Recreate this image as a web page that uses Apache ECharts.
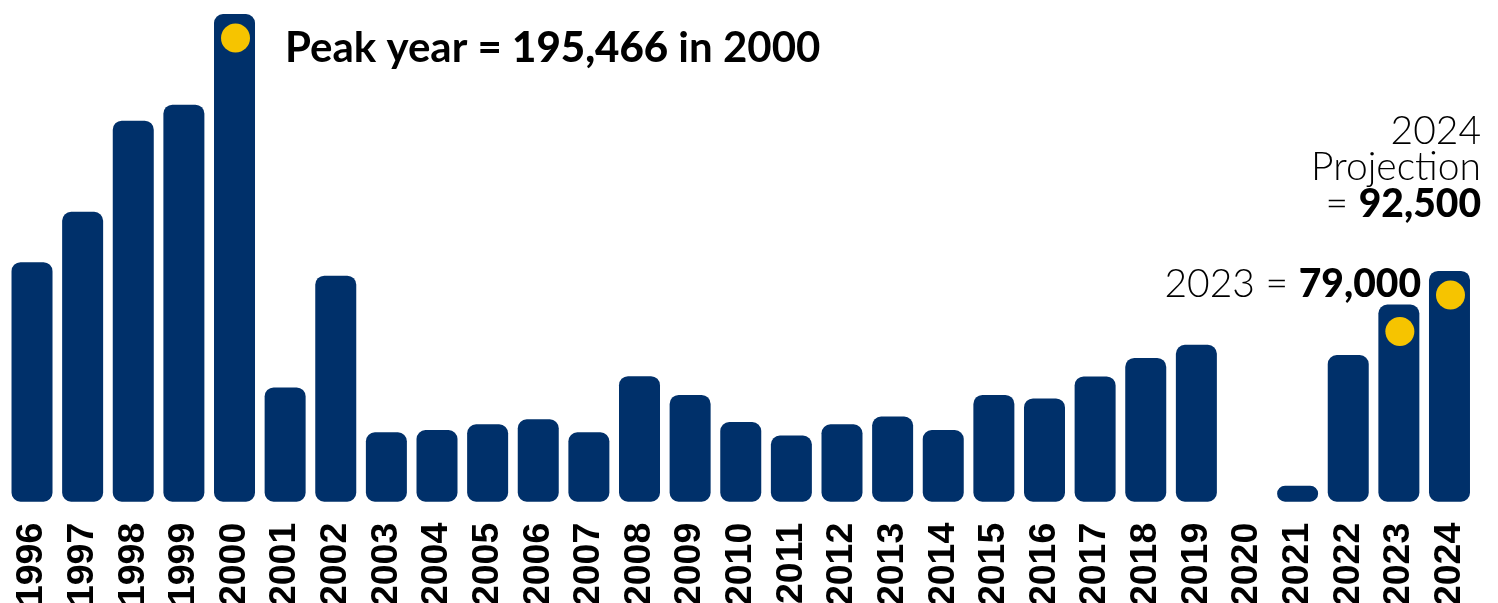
<!DOCTYPE html>
<html>
<head>
<meta charset="utf-8">
<style>
html,body{margin:0;padding:0;background:#fff;}
#chart{width:1498px;height:603px;}
</style>
<script src="https://cdn.jsdelivr.net/npm/echarts@6/dist/echarts.min.js"></script>
</head>
<body>
<div id="chart"></div>
<script>
const years = ['1996','1997','1998','1999','2000','2001','2002','2003','2004','2005','2006','2007','2008','2009','2010','2011','2012','2013','2014','2015','2016','2017','2018','2019','2020','2021','2022','2023','2024'];
const values = [96000,116200,152700,159100,195466,45800,90600,27800,28700,31000,33000,27800,50300,42800,31900,26500,31000,34100,28700,42800,41400,50200,57600,62900,null,6400,58800,79000,92500];
const highlightYears = ['2000','2023','2024'];
const peakValue = 195466, peakYear = '2000';
const value2023 = 79000, value2024 = 92500;

const BAR = '#00306A', DOT = '#F6C400';
const fmt = v => v.toLocaleString('en-US');

const dotData = years.map((y, i) => highlightYears.includes(y) ? {
  value: values[i],
  symbolOffset: [1, y === '2023' ? 27 : 24]
} : null);

const chart = echarts.init(document.getElementById('chart'), null, {renderer: 'canvas'});
chart.setOption({
  animation: false,
  grid: {left: 6.7, right: 23.2, top: 14, bottom: 101.3, containLabel: false, outerBoundsMode: 'none'},
  xAxis: {
    type: 'category', data: years,
    axisLine: {show: false}, axisTick: {show: false},
    axisLabel: {rotate: 90, margin: 21, color: '#000', fontFamily: 'Arial, "Liberation Sans", sans-serif', fontWeight: 'bold', fontSize: 37.5, interval: 0}
  },
  yAxis: {type: 'value', min: 0, max: peakValue, show: false, splitLine: {show: false}},
  series: [
    {
      type: 'bar', data: values, barWidth: 41,
      itemStyle: {color: BAR, borderRadius: 9}
    },
    {
      type: 'scatter', data: dotData, symbol: 'circle', symbolSize: 29,
      itemStyle: {color: DOT, opacity: 1}, z: 5
    }
  ],
  graphic: [
    {
      type: 'text', x: 285, y: 48,
      style: {
        text: '{a|Peak year = }{b|' + fmt(peakValue) + '}{a| in ' + peakYear + '}',
        verticalAlign: 'middle', align: 'left',
        rich: {
          a: {fontFamily: 'Lato', fontWeight: 'bold', fontSize: 42, fill: '#000'},
          b: {fontFamily: 'Lato', fontWeight: 900, fontSize: 42, fill: '#000'}
        }
      }
    },
    {
      type: 'text', x: 1481, y: 131,
      style: {text: '2024', align: 'right', verticalAlign: 'middle', font: '300 39px Lato', fill: '#000'}
    },
    {
      type: 'text', x: 1481, y: 167,
      style: {text: 'Projection', align: 'right', verticalAlign: 'middle', font: '300 39px Lato', fill: '#000'}
    },
    {
      type: 'text', x: 1481, y: 204,
      style: {
        text: '{a|= }{b|' + fmt(value2024) + '}', align: 'right', verticalAlign: 'middle',
        rich: {
          a: {fontFamily: 'Lato', fontWeight: 300, fontSize: 39, fill: '#000'},
          b: {fontFamily: 'Lato', fontWeight: 900, fontSize: 39, fill: '#000'}
        }
      }
    },
    {
      type: 'text', x: 1421, y: 284,
      style: {
        text: '{a|2023 = }{b|' + fmt(value2023) + '}', align: 'right', verticalAlign: 'middle',
        rich: {
          a: {fontFamily: 'Lato', fontWeight: 300, fontSize: 39, fill: '#000'},
          b: {fontFamily: 'Lato', fontWeight: 900, fontSize: 39, fill: '#000'}
        }
      }
    }
  ]
});
</script>
</body>
</html>
